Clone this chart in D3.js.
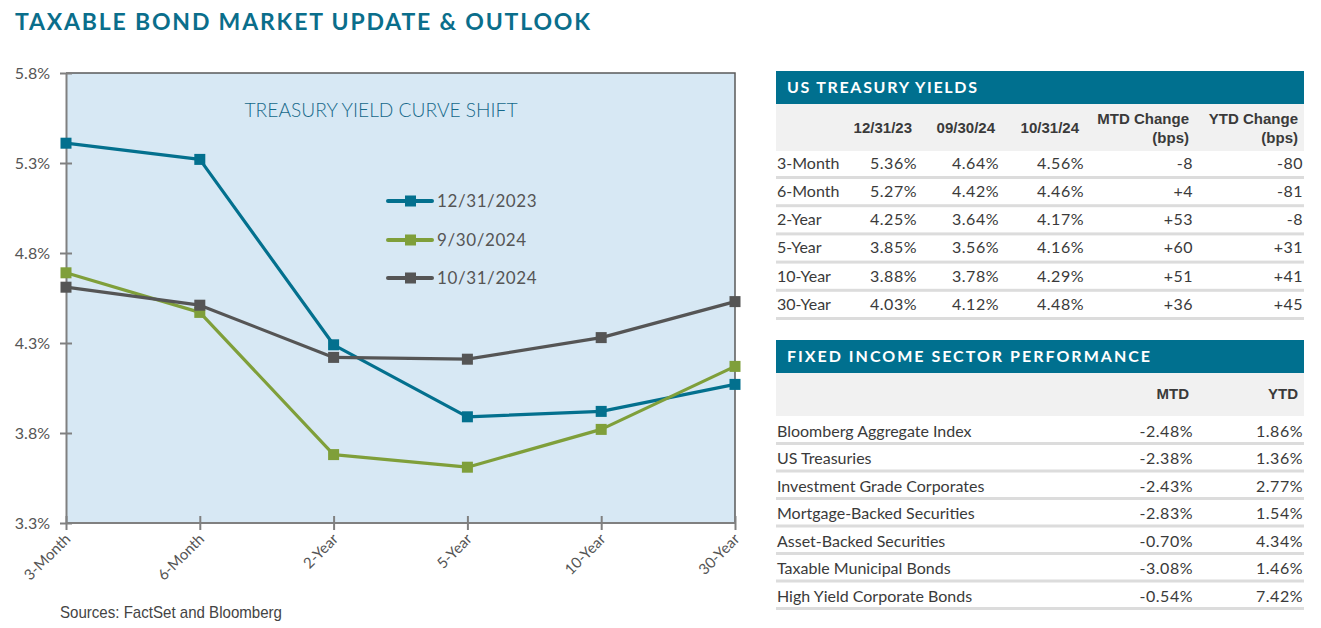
<!DOCTYPE html>
<html><head><meta charset="utf-8">
<script src="https://cdn.jsdelivr.net/npm/d3@7"></script>
<style>
html,body{margin:0;padding:0;background:#fff;}
svg{display:block;}
</style></head>
<body>
<svg id="c" width="1321" height="628"></svg>
<script>
// ---------- DATA ----------
const tenors = ["3-Month","6-Month","2-Year","5-Year","10-Year","30-Year"];
const seriesNames = ["12/31/2023","9/30/2024","10/31/2024"];
const yields2023 = [5.41,5.32,4.29,3.89,3.92,4.07];
const yields0924 = [4.69,4.47,3.68,3.61,3.82,4.17];
const yields1024 = [4.61,4.51,4.22,4.21,4.33,4.53];
const yTicks = [3.3,3.8,4.3,4.8,5.3,5.8];

const tyHeaders = [["12/31/23"],["09/30/24"],["10/31/24"],["MTD Change","(bps)"],["YTD Change","(bps)"]];
const tyCol1231 = ["5.36%","5.27%","4.25%","3.85%","3.88%","4.03%"];
const tyCol0930 = ["4.64%","4.42%","3.64%","3.56%","3.78%","4.12%"];
const tyCol1031 = ["4.56%","4.46%","4.17%","4.16%","4.29%","4.48%"];
const tyMTD = ["-8","+4","+53","+60","+51","+36"];
const tyYTD = ["-80","-81","-8","+31","+41","+45"];

const sectorNames = ["Bloomberg Aggregate Index","US Treasuries","Investment Grade Corporates","Mortgage-Backed Securities","Asset-Backed Securities","Taxable Municipal Bonds","High Yield Corporate Bonds"];
const sectorMTD = ["-2.48%","-2.38%","-2.43%","-2.83%","-0.70%","-3.08%","-0.54%"];
const sectorYTD = ["1.86%","1.36%","2.77%","1.54%","4.34%","1.46%","7.42%"];
const sectorHeaders = ["MTD","YTD"];

// ---------- STYLE ----------
const teal = "#00708f";
const colors = ["#03708e","#7f9f3a","#555555"];
const geo = "Lato, 'Open Sans', sans-serif";
const narrow = "'Liberation Sans Narrow', 'Arial Narrow', 'Liberation Sans', sans-serif";

const svg = d3.select("#c");

// Main title
svg.append("text").attr("x",15).attr("y",30)
  .attr("font-family",geo).attr("font-weight",700).attr("font-size",23)
  .attr("fill","#0a6e8b").attr("textLength",575).attr("lengthAdjust","spacing")
  .text("TAXABLE BOND MARKET UPDATE & OUTLOOK");

// ---------- CHART ----------
const x = d3.scalePoint().domain(tenors).range([66,735]);
const y = d3.scaleLinear().domain([3.3,5.8]).range([523,73]);

const g = svg.append("g");
g.append("rect").attr("x",66).attr("y",73).attr("width",735-66).attr("height",523-73).attr("fill","#d7e8f4");
// top & right frame
g.append("path").attr("d",`M66,${y(5.8)}H735V${y(3.3)}`).attr("fill","none").attr("stroke","#5a5a5a").attr("stroke-width",1.5);

// y axis
const yAxis = d3.axisLeft(y).tickValues(yTicks).tickFormat(d=>d3.format(".1f")(d)+"%").tickSize(12).tickSizeOuter(0);
const ya = g.append("g").attr("transform","translate(66,0)").call(yAxis);
ya.select(".domain").attr("stroke","#808080").attr("stroke-width",2);
ya.selectAll(".tick line").attr("stroke","#808080").attr("stroke-width",2).attr("x2",6).attr("x1",-6);
ya.selectAll(".tick text").attr("x",-16).attr("font-family",geo).attr("font-size",16).attr("fill","#555").attr("dy","0.36em");

// x axis
const xAxis = d3.axisBottom(x).tickSize(0).tickSizeOuter(0);
const xa = g.append("g").attr("transform","translate(0,523)").call(xAxis);
xa.select(".domain").attr("stroke","#808080").attr("stroke-width",2).attr("d","M66,0H735");
xa.selectAll(".tick line").attr("stroke","#808080").attr("stroke-width",2).attr("y1",-7).attr("y2",7);
xa.selectAll(".tick text").attr("font-family",geo).attr("font-size",15).attr("fill","#555")
  .attr("text-anchor","end").attr("dy",0).attr("y",0)
  .attr("transform","translate(5,17) rotate(-45)");

// chart title
g.append("text").attr("x",381).attr("y",117).attr("text-anchor","middle")
  .attr("font-family",geo).attr("font-weight",300).attr("font-size",20).attr("fill","#16698a")
  .attr("textLength",273).attr("lengthAdjust","spacingAndGlyphs")
  .text("TREASURY YIELD CURVE SHIFT");

const allSeries = [yields2023, yields0924, yields1024];
const line = d3.line().x((d,i)=>x(tenors[i])).y(d=>y(d));
allSeries.forEach((vals,si)=>{
  g.append("path").datum(vals).attr("d",line).attr("fill","none")
    .attr("stroke",colors[si]).attr("stroke-width",3.2).attr("stroke-linejoin","round");
  g.selectAll(null).data(vals).enter().append("rect")
    .attr("x",(d,i)=>x(tenors[i])-5.5).attr("y",d=>y(d)-5.5)
    .attr("width",11).attr("height",11).attr("fill",colors[si]);
});

// legend
const legY = [201,240,278];
seriesNames.forEach((n,i)=>{
  const lg = g.append("g");
  lg.append("line").attr("x1",388).attr("x2",432).attr("y1",legY[i]).attr("y2",legY[i])
    .attr("stroke",colors[i]).attr("stroke-width",4).attr("stroke-linecap","round");
  lg.append("rect").attr("x",405).attr("y",legY[i]-5.5).attr("width",11).attr("height",11).attr("fill",colors[i]);
  lg.append("text").attr("x",437).attr("y",legY[i]).attr("dy","0.36em")
    .attr("font-family",geo).attr("font-size",17).attr("fill","#555").attr("letter-spacing",0.6).text(n);
});

// sources
svg.append("text").attr("x",60).attr("y",618).attr("font-family",narrow).attr("font-size",17)
  .attr("fill","#444").attr("textLength",222).attr("lengthAdjust","spacingAndGlyphs")
  .text("Sources: FactSet and Bloomberg");

// ---------- TABLE 1 ----------
const tL = 776, tR = 1304;
function bar(yTop, h, title, w){
  svg.append("rect").attr("x",tL).attr("y",yTop).attr("width",tR-tL).attr("height",h).attr("fill",teal);
  svg.append("text").attr("x",787).attr("y",yTop+h/2).attr("dy","0.36em")
    .attr("font-family",geo).attr("font-weight",700).attr("font-size",16).attr("fill","#fff")
    .attr("textLength",w).attr("lengthAdjust","spacing").text(title);
}
bar(71,33,"US TREASURY YIELDS",190);
svg.append("rect").attr("x",tL).attr("y",104).attr("width",tR-tL).attr("height",47).attr("fill","#f1f1f1");
const tyHeadRight = [912,995,1079,1189,1298];
tyHeaders.forEach((h,i)=>{
  if(h.length===1){
    svg.append("text").attr("x",tyHeadRight[i]).attr("y",133).attr("text-anchor","end")
      .attr("font-family",narrow).attr("font-weight",700).attr("font-size",15).attr("fill","#3a3a3a").text(h[0]);
  } else {
    h.forEach((s,k)=>svg.append("text").attr("x",tyHeadRight[i]).attr("y",124+k*19).attr("text-anchor","end")
      .attr("font-family",narrow).attr("font-weight",700).attr("font-size",15).attr("fill","#3a3a3a").text(s));
  }
});
const tyCols = [tyCol1231,tyCol0930,tyCol1031,tyMTD,tyYTD];
const tyValRight = [917,999,1084,1193,1303];
const rowY1 = d3.scalePoint().domain(tenors).range([163,304]);
tenors.forEach((t,r)=>{
  const yy = rowY1(t);
  svg.append("text").attr("x",777).attr("y",yy).attr("dy","0.36em").attr("font-family",geo)
    .attr("font-size",16).attr("fill","#3a3a3a").text(t);
  tyCols.forEach((col,c)=>{
    svg.append("text").attr("x",tyValRight[c]).attr("y",yy).attr("dy","0.36em").attr("text-anchor","end")
      .attr("font-family",geo).attr("font-size",16).attr("fill","#3a3a3a").attr("letter-spacing",0.5).text(col[r]);
  });
  svg.append("rect").attr("x",tL).attr("y",yy+13).attr("width",tR-tL).attr("height",3).attr("fill","#dcdcdc");
});

// ---------- TABLE 2 ----------
bar(340,33,"FIXED INCOME SECTOR PERFORMANCE",363);
svg.append("rect").attr("x",tL).attr("y",373).attr("width",tR-tL).attr("height",43).attr("fill","#f1f1f1");
const secHeadRight = [1189,1298];
sectorHeaders.forEach((h,i)=>svg.append("text").attr("x",secHeadRight[i]).attr("y",399).attr("text-anchor","end")
  .attr("font-family",narrow).attr("font-weight",700).attr("font-size",15).attr("fill","#3a3a3a").text(h));
const rowY2 = d3.scalePoint().domain(sectorNames).range([431,596]);
const secCols = [sectorMTD, sectorYTD];
const secValRight = [1193,1303];
sectorNames.forEach((s,r)=>{
  const yy = rowY2(s);
  svg.append("text").attr("x",777).attr("y",yy).attr("dy","0.36em").attr("font-family",geo)
    .attr("font-size",16).attr("fill","#3a3a3a").text(s);
  secCols.forEach((col,c)=>svg.append("text").attr("x",secValRight[c]).attr("y",yy).attr("dy","0.36em")
    .attr("text-anchor","end").attr("font-family",geo).attr("font-size",16).attr("fill","#3a3a3a")
    .attr("letter-spacing",0.5).text(col[r]));
  svg.append("rect").attr("x",tL).attr("y",yy+11).attr("width",tR-tL).attr("height",3).attr("fill","#dcdcdc");
});
</script>
</body></html>
